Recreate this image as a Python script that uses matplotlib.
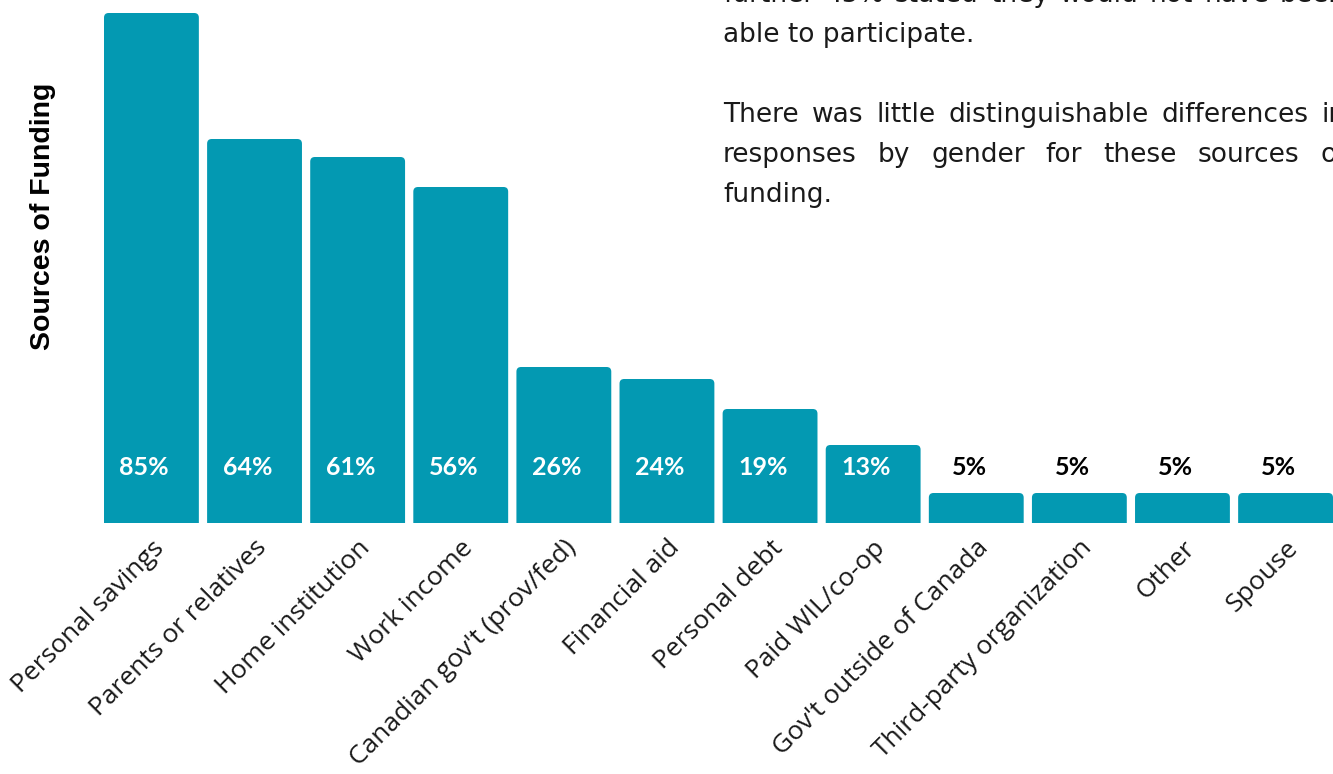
import matplotlib.pyplot as plt
from matplotlib.patches import FancyBboxPatch

# data
categories = ['Personal savings', 'Parents or relatives', 'Home institution', 'Work income',
              "Canadian gov't (prov/fed)", 'Financial aid', 'Personal debt', 'Paid WIL/co-op',
              "Gov't outside of Canada", 'Third-party organization', 'Other', 'Spouse']
values = [85, 64, 61, 56, 26, 24, 19, 13, 5, 5, 5, 5]

# (text, justified?)
para_lines = [('further 45% stated they would not have been', True),
              ('able to participate.', False),
              ('', False),
              ('There was little distinguishable differences in', True),
              ('responses by gender for these sources of', True),
              ('funding.', False)]

W, H = 1333, 774
bar_color = '#0399b2'

fig = plt.figure(figsize=(W / 100, H / 100), dpi=100)
ax = fig.add_axes([104 / W, 251 / H, (W - 104) / W, 510 / H])

x = list(range(len(categories)))
bars = ax.bar(x, values, width=0.92, color=bar_color)

# rounded top corners
aspect = (510 / 85) / (1229 / 11.92)
for b in bars:
    bx, bw, bh = b.get_x(), b.get_width(), b.get_height()
    b.set_visible(False)
    p = FancyBboxPatch((bx, -2), bw, bh + 2,
                       boxstyle='round,pad=0,rounding_size=0.045',
                       mutation_aspect=1 / aspect,
                       facecolor=bar_color, edgecolor='none', clip_on=True)
    ax.add_patch(p)

ax.set_xlim(-0.46, len(categories) - 0.54)
ax.set_ylim(0, 85)

for xi, v in zip(x, values):
    inside = v > 10
    ax.text(xi - 0.07, 9.3, f'{v}%', ha='center', va='center',
            color='white' if inside else 'black', fontsize=18,
            fontweight='bold', family='Lato')

ax.set_xticks(x)
ax.set_xticklabels(categories, rotation=45, ha='right', rotation_mode='anchor',
                   fontsize=19, family='Open Sans', color='#1a1a1a')
ax.tick_params(axis='x', length=0, pad=9)
ax.set_yticks([])
for s in ax.spines.values():
    s.set_visible(False)

fig.text(43 / W, 1 - 216 / H, 'Sources of Funding', rotation=90, ha='center', va='center',
         fontsize=20.5, fontweight='bold', family='Liberation Sans')

# paragraph, justified like the source
renderer = fig.canvas.get_renderer()
left_px, right_px = 723, 1346
base = 2
fs = 19
pfont = 'DejaVu Sans'
for i, (line, just) in enumerate(para_lines):
    if not line:
        continue
    y = 1 - (base + 40 * i) / H
    words = line.split(' ')
    if not just:
        fig.text(left_px / W, y, line, ha='left', va='baseline',
                 fontsize=fs, family=pfont, color='#1a1a1a')
        continue
    texts = [fig.text(0, y, w, ha='left', va='baseline', fontsize=fs,
                      family=pfont, color='#1a1a1a') for w in words]
    widths = [t.get_window_extent(renderer).width for t in texts]
    gap = (right_px - left_px - sum(widths)) / (len(words) - 1)
    pos = left_px
    for t, wd in zip(texts, widths):
        t.set_x(pos / W)
        pos += wd + gap

fig.savefig('out.png', dpi=100)
